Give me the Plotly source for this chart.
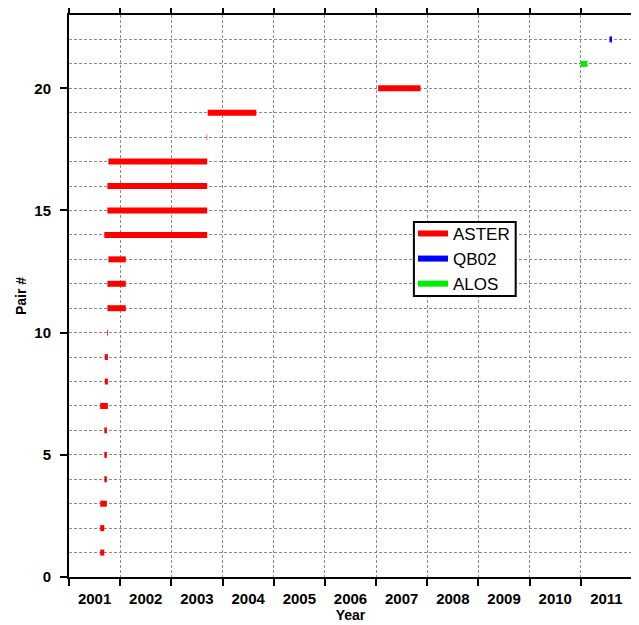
import plotly.graph_objects as go

# ---- data ----
aster_pairs = [1, 2, 3, 4, 5, 6, 7, 8, 9, 10, 11, 12, 13, 14, 15, 16, 17, 18, 19, 20]
aster_start = [2001.61, 2001.61, 2001.61, 2001.69, 2001.69, 2001.69, 2001.61, 2001.70,
               2001.70, 2001.745, 2001.75, 2001.75, 2001.77, 2001.69, 2001.75, 2001.75,
               2001.77, 2003.69, 2003.71, 2007.04]
aster_end = [2001.69, 2001.69, 2001.74, 2001.74, 2001.74, 2001.74, 2001.76, 2001.76,
             2001.76, 2001.76, 2002.11, 2002.11, 2002.11, 2003.70, 2003.70, 2003.70,
             2003.70, 2003.70, 2004.66, 2007.87]
qb02_pairs = [22]
qb02_start = [2011.56]
qb02_end = [2011.61]
alos_pairs = [21]
alos_start = [2011.0]
alos_end = [2011.13]

year_labels = ["2001", "2002", "2003", "2004", "2005", "2006", "2007", "2008", "2009", "2010", "2011"]
year_label_pos = [2001.5 + i for i in range(len(year_labels))]
year_bounds = [2001 + i for i in range(12)]
y_ticks = [0, 5, 10, 15, 20]


def segs(pairs, starts, ends):
    xs, ys = [], []
    for p, s, e in zip(pairs, starts, ends):
        xs += [s, e, None]
        ys += [p, p, None]
    return xs, ys


fig = go.Figure()
for name, color, (p, s, e) in [
    ("ASTER", "#ff0000", (aster_pairs, aster_start, aster_end)),
    ("QB02", "#0000ff", (qb02_pairs, qb02_start, qb02_end)),
    ("ALOS", "#00ee00", (alos_pairs, alos_start, alos_end)),
]:
    xs, ys = segs(p, s, e)
    fig.add_trace(go.Scatter(x=xs, y=ys, mode="lines", name=name,
                             line=dict(color=color, width=6), connectgaps=False))

font_b = dict(family="Liberation Sans, Arial, sans-serif", size=15, color="black", weight="bold")
font_t = dict(family="Liberation Sans, Arial, sans-serif", size=14, color="black", weight="bold")

# legend frame
fig.add_shape(type="rect", xref="paper", yref="paper", x0=0.6126, x1=0.7934, y0=0.5, y1=0.6317,
              line=dict(color="black", width=2), fillcolor="white", layer="above")

fig.update_layout(
    width=631, height=617,
    margin=dict(l=60.5, r=6.5, t=7, b=48),
    paper_bgcolor="white", plot_bgcolor="white",
    font=dict(family="Liberation Sans, Arial, sans-serif", color="black"),
    legend=dict(x=0.611, y=0.6425, xanchor="left", yanchor="top",
                borderwidth=0, bgcolor="rgba(0,0,0,0)",
                font=dict(family="Liberation Sans, Arial, sans-serif", size=17, color="black"),
                itemwidth=30, tracegroupgap=0),
    xaxis=dict(
        range=[2001, 2012], showline=True, linecolor="black", linewidth=2, mirror="ticks",
        tickmode="array", tickvals=year_label_pos, ticktext=year_labels, ticks="",
        tickfont=font_b, ticklabelstandoff=7, showgrid=False, zeroline=False,
        automargin=False,
        minor=dict(tickmode="array", tickvals=year_bounds, ticks="outside", ticklen=7,
                   tickwidth=1.5, tickcolor="black", showgrid=True, gridcolor="#8c8c8c",
                   griddash="3px,2px", gridwidth=1),
        title=dict(text="Year", font=font_t, standoff=4),
    ),
    yaxis=dict(
        range=[0, 23], showline=True, linecolor="black", linewidth=2, mirror="ticks",
        tickmode="array", tickvals=y_ticks, ticks="outside", ticklen=7, tickwidth=1.5,
        tickcolor="black", tickfont=font_b, ticklabelstandoff=6,
        showgrid=True, gridcolor="#8c8c8c", griddash="3px,2px", gridwidth=1, zeroline=False,
        automargin=False,
        minor=dict(dtick=1, tick0=0, ticks="", showgrid=True, gridcolor="#8c8c8c",
                   griddash="3px,2px", gridwidth=1),
        title=dict(text="Pair #", font=font_t, standoff=4),
    ),
)

fig.write_html("out.html")
